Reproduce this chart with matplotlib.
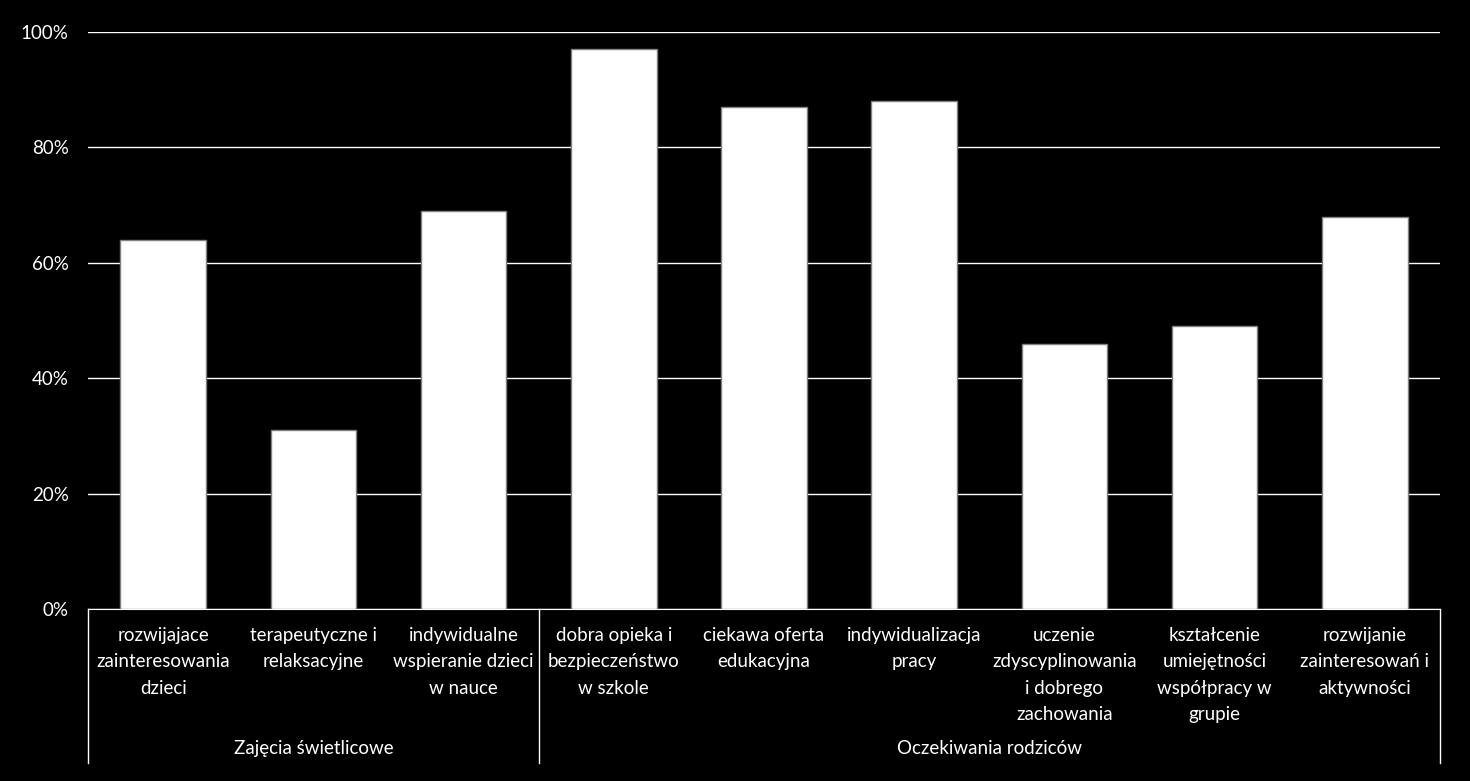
import matplotlib.pyplot as plt
from matplotlib.ticker import PercentFormatter
import matplotlib.transforms as mtransforms

plt.rcParams['font.family'] = ['Lato', 'DejaVu Sans']

# dane
categories = [
    "rozwijajace\nzainteresowania\ndzieci",
    "terapeutyczne i\nrelaksacyjne",
    "indywidualne\nwspieranie dzieci\nw nauce",
    "dobra opieka i\nbezpieczeństwo\nw szkole",
    "ciekawa oferta\nedukacyjna",
    "indywidualizacja\npracy",
    "uczenie\nzdyscyplinowania\ni dobrego\nzachowania",
    "kształcenie\numiejętności\nwspółpracy w\ngrupie",
    "rozwijanie\nzainteresowań i\naktywności",
]
values = [64, 31, 69, 97, 87, 88, 46, 49, 68]
groups = ["Zajęcia świetlicowe", "Oczekiwania rodziców"]
group_sizes = [3, 6]

fig = plt.figure(figsize=(14.7, 7.81), dpi=100, facecolor='black')
ax = fig.add_axes([0.0599, 0.2202, 0.9197, 0.7388])
ax.set_facecolor('black')

x = list(range(len(values)))
ax.bar(x, values, width=0.57, color='white', edgecolor='#808080', linewidth=1, zorder=3)

ax.set_xlim(-0.5, len(values) - 0.5)
ax.set_ylim(0, 100)
ax.set_yticks(range(0, 101, 20))
ax.yaxis.set_major_formatter(PercentFormatter(decimals=0))
ax.grid(axis='y', color='white', linewidth=1, zorder=0)
ax.tick_params(axis='y', length=0, pad=14, colors='white', labelsize=13.5)

ax.set_xticks(x)
ax.set_xticklabels(categories, color='white', fontsize=13.5, linespacing=1.66, va='top')
ax.tick_params(axis='x', length=0, pad=13)

for s in ['top', 'right', 'left']:
    ax.spines[s].set_visible(False)
ax.spines['bottom'].set_color('white')

# grupy i linie podziału
trans = mtransforms.blended_transform_factory(ax.transData, ax.transAxes)
start = -0.5
edges = [start]
for name, n in zip(groups, group_sizes):
    ax.text(start + n / 2, -0.241, name, transform=trans, ha='center', va='center',
            color='white', fontsize=13.5)
    start += n
    edges.append(start)
for e in edges:
    ax.plot([e, e], [0, -0.267], transform=trans, color='white', linewidth=1, clip_on=False)

fig.savefig('out.png', dpi=100, facecolor='black')
